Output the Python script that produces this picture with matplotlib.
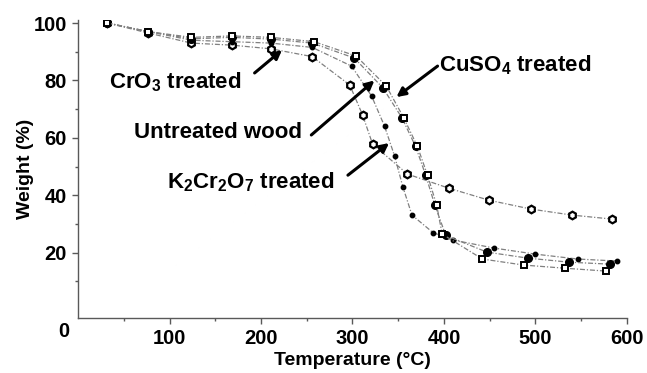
import matplotlib.pyplot as plt

plt.rcParams["font.family"] = ["Liberation Sans", "DejaVu Sans"]
plt.rcParams["font.weight"] = "bold"
plt.rcParams["mathtext.fontset"] = "custom"
plt.rcParams["mathtext.rm"] = "Liberation Sans:bold"
plt.rcParams["mathtext.bf"] = "Liberation Sans:bold"
plt.rcParams["mathtext.default"] = "rm"

# -----------------------------
# TGA data
# -----------------------------

# CrO3 treated (open hexagon markers)
cro3_temp = [32, 77, 124, 168, 211, 256, 297, 311, 322, 360, 405, 449, 495, 540, 584]
cro3_weight = [100, 96.5, 93, 92.3, 91, 88.3, 78.4, 68, 57.8, 47.4, 42.5, 38.3, 35.2, 33.1, 31.7]

# K2Cr2O7 treated (small filled dots)
k2cr2o7_temp = [32, 77, 124, 168, 211, 256, 299, 321, 335, 346, 355, 365, 388, 410, 455, 500, 546, 589]
k2cr2o7_weight = [100, 97, 94, 93.5, 93, 91.5, 85, 74.5, 64.1, 53.7, 43, 33.1, 27, 24.4, 21.6, 19.5, 17.8, 17.1]

# Untreated wood (filled circles)
untreated_temp = [32, 77, 124, 168, 211, 256, 302, 333, 354, 369, 380, 390, 402, 447, 492, 537, 582]
untreated_weight = [100, 97, 94.5, 95, 94.4, 93, 87.8, 77.5, 67, 57, 47, 36.6, 26, 20.2, 18.1, 16.7, 16.0]

# CuSO4 treated (open squares)
cuso4_temp = [32, 77, 124, 168, 211, 258, 304, 337, 356, 371, 382, 392, 398, 442, 487, 532, 577]
cuso4_weight = [100, 97, 95, 95.5, 95, 93.5, 88.5, 78, 67, 57, 47, 36.6, 26.5, 17.8, 15.7, 14.6, 13.6]

x_ticks = [100, 200, 300, 400, 500, 600]
y_ticks = [20, 40, 60, 80, 100]

fig = plt.figure(figsize=(6.47, 3.73), dpi=100)
ax = fig.add_axes([0.1206, 0.147, 0.8484, 0.799])

line_style = dict(color="0.5", lw=0.9, linestyle=(0, (4, 1.5, 1, 1.5)))

ax.plot(cro3_temp, cro3_weight, marker="h", ms=5.5, mfc="white", mec="black", mew=1.6, **line_style)
ax.plot(k2cr2o7_temp, k2cr2o7_weight, marker="o", ms=3.2, mfc="black", mec="black", **line_style)
ax.plot(untreated_temp, untreated_weight, marker="o", ms=5.5, mfc="black", mec="black", **line_style)
ax.plot(cuso4_temp, cuso4_weight, marker="s", ms=5, mfc="white", mec="black", mew=1.4, **line_style)

# Labels with arrows
text_style = dict(fontsize=16, fontweight="bold", va="center", ha="left")
arrow_style = dict(arrowstyle="-|>", lw=2.2, color="black", mutation_scale=13, shrinkA=0, shrinkB=0)

ax.text(34, 79.4, "CrO$_3$ treated", **text_style)
ax.annotate("", xy=(223, 90.6), xytext=(193, 82.6), arrowprops=arrow_style)

ax.text(61, 61.7, "Untreated wood", **text_style)
ax.annotate("", xy=(324, 80), xytext=(255, 61), arrowprops=arrow_style)

ax.text(97, 44.6, "K$_2$Cr$_2$O$_7$ treated", **text_style)
ax.annotate("", xy=(340, 58.2), xytext=(295, 47), arrowprops=arrow_style)

ax.text(395, 85.4, "CuSO$_4$ treated", **text_style)
ax.annotate("", xy=(348, 74.2), xytext=(393, 85), arrowprops=arrow_style)

# Axes
ax.set_xlim(0, 600)
ax.set_ylim(-2.8, 101)
ax.set_xticks(x_ticks)
ax.set_yticks(y_ticks)
ax.set_xticks([50, 150, 250, 350, 450, 550], minor=True)
ax.set_yticks([10, 30, 50, 70, 90], minor=True)
ax.tick_params(which="both", direction="out", color="0.35", width=1)
ax.tick_params(which="major", length=4, labelsize=14.5, pad=4)
ax.tick_params(which="minor", length=2.5)
for lbl in ax.get_xticklabels() + ax.get_yticklabels():
    lbl.set_fontweight("bold")

# shared origin label
ax.text(-15, -7.5, "0", fontsize=14.5, fontweight="bold", ha="center", va="center", clip_on=False)

for side in ["top", "right"]:
    ax.spines[side].set_visible(False)
for side in ["left", "bottom"]:
    ax.spines[side].set_color("0.35")
    ax.spines[side].set_linewidth(1)

ax.set_xlabel("Temperature (°C)", fontsize=14, fontweight="bold", labelpad=3)
ax.set_ylabel("Weight (%)", fontsize=14, fontweight="bold", labelpad=0)

plt.savefig("out.png", dpi=100)
plt.close()
